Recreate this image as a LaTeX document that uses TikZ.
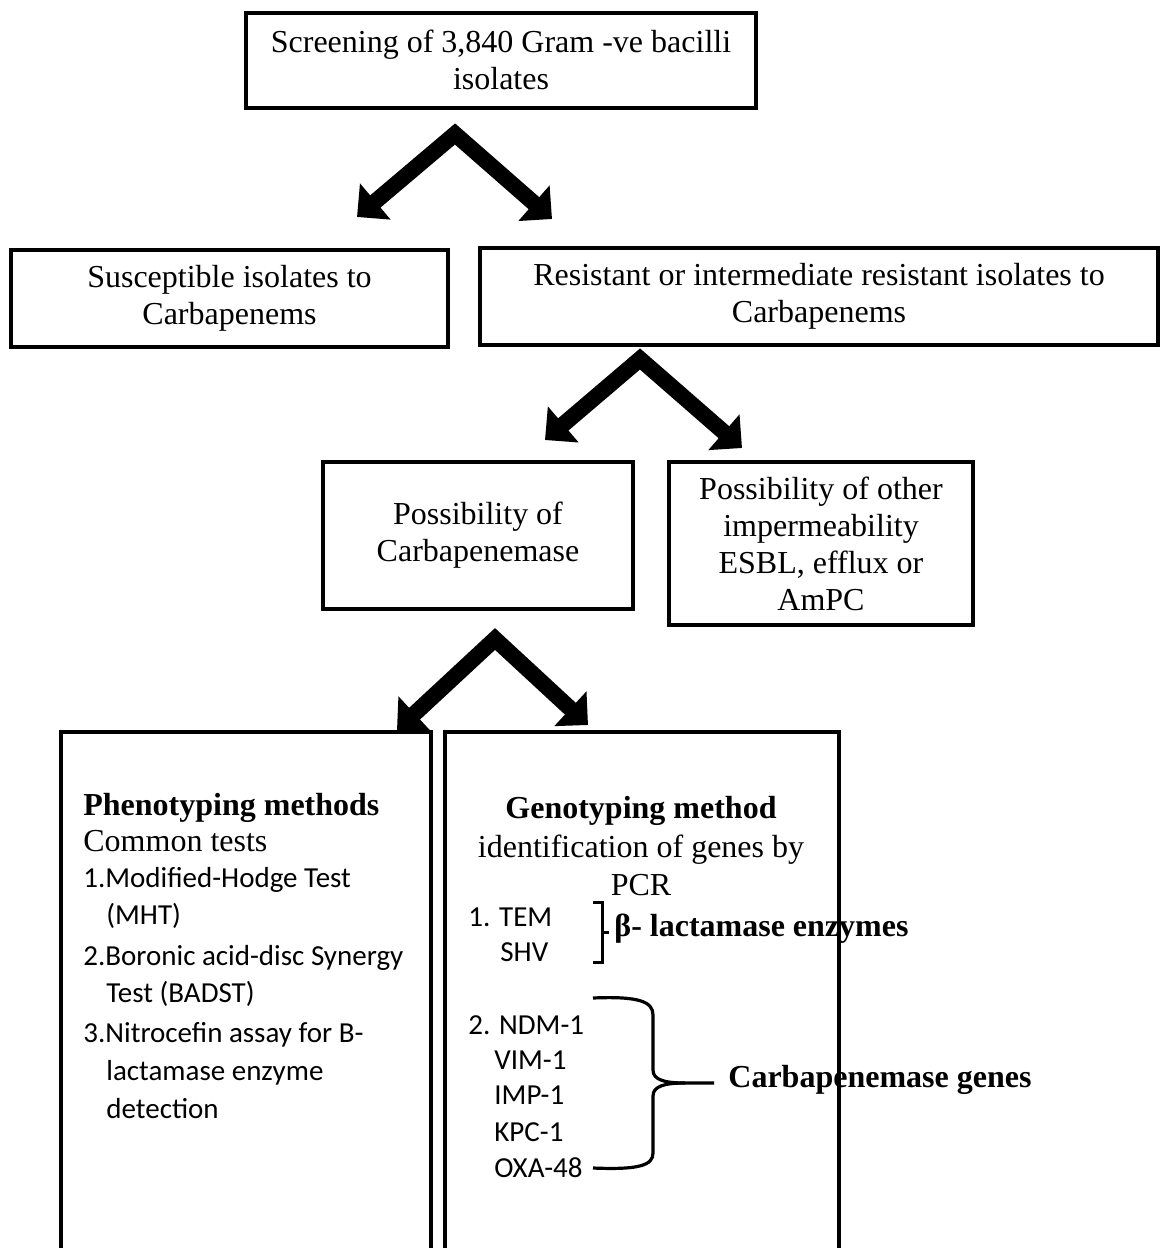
\documentclass[tikz,border=0pt]{standalone}
\usepackage{fontspec}
\setmainfont{Liberation Serif}
\newfontfamily\calibri{Carlito}
\usetikzlibrary{arrows.meta}

\begin{document}
\begin{tikzpicture}[x=0.5pt, y=-0.5pt,
		box/.style={draw, line width=2pt, align=center, inner sep=0pt, font=\fontsize{16}{18.5}\selectfont},
		tallbox/.style={draw, line width=1.6pt, inner sep=0pt},
		fat/.style={line width=8pt, line join=miter, {Triangle[length=12pt,width=23pt]}-{Triangle[length=12pt,width=23pt]}},
		txt/.style={inner sep=0pt, font=\fontsize{16}{18.5}\selectfont},
		btxt/.style={inner sep=0pt, font=\bfseries\fontsize{16}{18.5}\selectfont},
		item/.style={anchor=mid west, inner sep=0pt, font=\calibri\fontsize{14.5}{17}\selectfont}]
		\useasboundingbox (0, 0) rectangle (1161, 1248);
		\clip (0, 0) rectangle (1161, 1248);

		\node[box, minimum width=255pt, minimum height=47.5pt] (screen) at (501, 60) {Screening of 3,840 Gram -ve bacilli\\isolates};
		\node[box, minimum width=218.5pt, minimum height=48.5pt] (suscept) at (229.5, 298.5) {Susceptible isolates to\\Carbapenems};
		\node[box, minimum width=339pt, minimum height=48.5pt] (resist) at (819, 296.5) {Resistant or intermediate resistant isolates to\\Carbapenems};
		\node[box, minimum width=155pt, minimum height=73.5pt] (carba) at (478, 535.5) {Possibility of\\Carbapenemase};
		\node[box, minimum width=152pt, minimum height=81.5pt] (other) at (821, 543.5) {Possibility of other\\impermeability\\ESBL, efflux or\\AmPC};
		\node[tallbox, minimum width=185pt, minimum height=284pt] (pheno) at (246, 1016) {};
		\node[tallbox, minimum width=197pt, minimum height=284pt] (geno) at (642, 1016) {};

		\coordinate (top1) at (455, 134);
		\coordinate (left1) at (357, 217);
		\coordinate (right1) at (552, 219);
		\coordinate (top2) at (640, 359);
		\coordinate (left2) at (545, 440);
		\coordinate (right2) at (742, 448);
		\coordinate (top3) at (495, 639);
		\coordinate (left3) at (397, 730);
		\coordinate (right3) at (588, 725);
		\draw[fat] (left1) -- (top1) -- (right1);
		\draw[fat] (left2) -- (top2) -- (right2);
		\draw[fat] (left3) -- (top3) -- (right3);

		\node[btxt, anchor=mid west] (phenohead) at (83, 811) {Phenotyping methods};
		\node[txt, anchor=mid west] (common) at (83, 847) {Common tests};
		\node[item] (mht) at (83, 883) {1.Modified-Hodge Test};
		\node[item] (mht2) at (106, 920) {(MHT)};
		\node[item] (badst) at (83, 961) {2.Boronic acid-disc Synergy};
		\node[item] (badst2) at (106, 998) {Test (BADST)};
		\node[item] (nitro) at (83, 1038) {3.Nitrocefin assay for B-};
		\node[item] (nitro2) at (106, 1076) {lactamase enzyme};
		\node[item] (nitro3) at (106, 1114) {detection};

		\node[btxt] (genohead) at (641, 811) {Genotyping method};
		\node[txt] (ident) at (641, 850) {identification of genes by};
		\node[txt] (pcr) at (641, 885) {PCR};
		\node[item] (tem) at (468, 922) {1. TEM};
		\node[item] (shv) at (500, 957) {SHV};
		\node[item] (ndm) at (468, 1030) {2. NDM-1};
		\node[item] (vim) at (494, 1065) {VIM-1};
		\node[item] (imp) at (494, 1100) {IMP-1};
		\node[item] (kpc) at (494, 1137) {KPC-1};
		\node[item] (oxa) at (494, 1173) {OXA-48};

		\draw[line width=1.5pt] (593, 902) -- (602, 902) -- (602, 962) -- (593, 962);
		\draw[line width=1.5pt] (602, 932) -- (609, 932);
		\node[btxt, anchor=mid west] (betalact) at (614, 932) {β- lactamase enzymes};

		\draw[line width=1.6pt] (593, 998) .. controls (640, 996) and (653, 1002) .. (653, 1015) -- (653, 1070) .. controls (653, 1080) and (665, 1083) .. (685, 1083) -- (714, 1083);
		\draw[line width=1.6pt] (685, 1083) .. controls (665, 1083) and (653, 1086) .. (653, 1096) -- (653, 1153) .. controls (653, 1165) and (640, 1170) .. (593, 1168);
		\node[btxt, anchor=mid west] (carbagenes) at (728, 1083) {Carbapenemase genes};
	\end{tikzpicture}
\end{document}
